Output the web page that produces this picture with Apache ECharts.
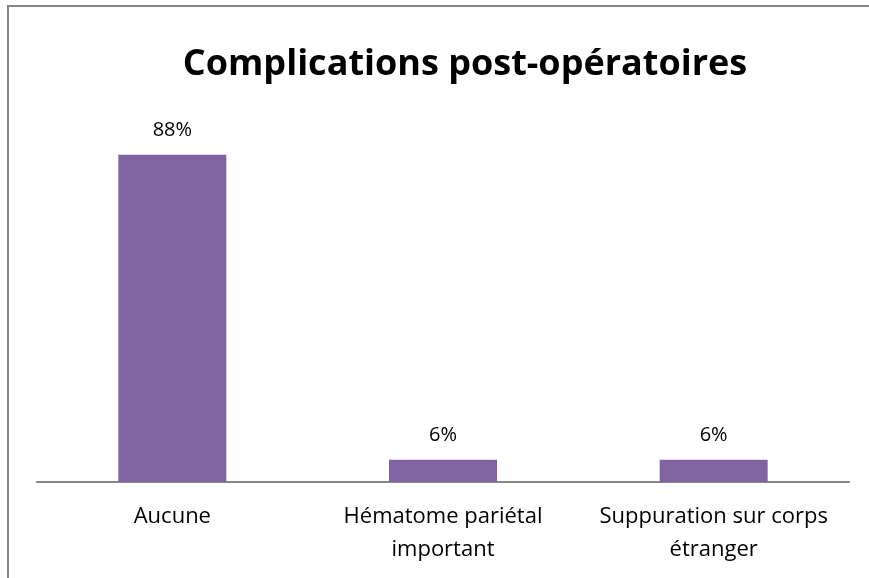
<!DOCTYPE html>
<html>
<head>
<meta charset="utf-8">
<script src="https://cdn.jsdelivr.net/npm/echarts@6/dist/echarts.min.js"></script>
<style>
  html, body { margin: 0; padding: 0; background: #fff; overflow: hidden; }
  #frame { position: absolute; left: 7px; top: 5px; width: 900px; height: 600px;
           border-left: 2px solid #868686; border-top: 2px solid #868686; }
  #main { position: absolute; left: 0; top: 0; width: 869px; height: 578px; }
</style>
</head>
<body>
<div id="frame"></div>
<div id="main"></div>
<script>
var titleText = 'Complications post-opératoires';
var categories = ['Aucune', 'Hématome pariétal\nimportant', 'Suppuration sur corps\nétranger'];
var values = [88, 6, 6];

var chart = echarts.init(document.getElementById('main'));
chart.setOption({
  backgroundColor: 'transparent',
  animation: false,
  title: {
    text: titleText,
    left: 460,
    top: 42,
    textAlign: 'center',
    textStyle: { fontFamily: 'Open Sans', fontWeight: 'bold', fontSize: 36, color: '#000' }
  },
  grid: { left: 37, right: 20, top: 110, bottom: 96 },
  xAxis: {
    type: 'category',
    data: categories,
    axisLine: { lineStyle: { color: '#868686', width: 2 } },
    axisTick: { show: false },
    axisLabel: {
      interval: 0,
      hideOverlap: false,
      color: '#000',
      fontFamily: 'Open Sans',
      fontSize: 22,
      lineHeight: 33,
      margin: 18
    }
  },
  yAxis: {
    type: 'value',
    min: 0,
    max: 100,
    show: false,
    splitLine: { show: false }
  },
  series: [{
    type: 'bar',
    data: values,
    barWidth: 108,
    itemStyle: { color: '#8064A2' },
    label: {
      show: true,
      position: 'top',
      distance: 14,
      formatter: '{c}%',
      color: '#000',
      fontFamily: 'Open Sans',
      fontSize: 20
    }
  }]
});
</script>
</body>
</html>
